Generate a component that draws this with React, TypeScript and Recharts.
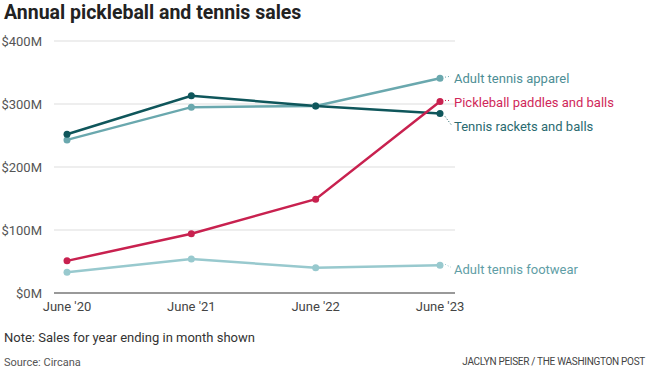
import React from "react";
import { LineChart, Line, XAxis, YAxis, CartesianGrid } from "recharts";

const categories = ["June '20", "June '21", "June '22", "June '23"];
const racketsAndBalls = [252, 313, 297, 285];
const apparel = [243, 295, 297, 341];
const pickleball = [51, 94, 149, 304];
const footwear = [33, 54, 40, 44];
const yTicks = [0, 100, 200, 300, 400];

const data = categories.map((c, i) => ({
  cat: c,
  rackets: racketsAndBalls[i],
  apparel: apparel[i],
  pickleball: pickleball[i],
  footwear: footwear[i],
}));

const FONT = "Roboto, 'Noto Sans', sans-serif";

const series = [
  { key: "footwear", name: "Adult tennis footwear", color: "#98c9ce", labelColor: "#5f9ea6", dy: 4 },
  { key: "apparel", name: "Adult tennis apparel", color: "#6aa8ae", labelColor: "#4d8e95", dy: 0 },
  { key: "rackets", name: "Tennis rackets and balls", color: "#0f565b", labelColor: "#2a6a70", dy: 13 },
  { key: "pickleball", name: "Pickleball paddles and balls", color: "#c8214f", labelColor: "#d0285a", dy: 1 },
];

const makeLabel = (s: any) => (props: any) => {
  const { x, y, index } = props;
  if (index !== categories.length - 1) return null;
  const lx = x + 14;
  const ly = y + s.dy;
  return (
    <g>
      <line x1={x + 5} y1={y + (s.dy > 5 ? 3 : -1)} x2={lx - 3} y2={ly - 2} stroke={s.color} strokeWidth={1} strokeDasharray="1 2" />
      <text x={lx} y={ly} dy="0.35em" fill={s.labelColor} fontSize={13} fontFamily={FONT}>
        {s.name}
      </text>
    </g>
  );
};

export default function App() {
  return (
    <div style={{ position: "fixed", left: 0, top: 0, width: 649, height: 376, background: "#fff", fontFamily: FONT }}>
      <div style={{ position: "absolute", left: 4, top: 1, fontSize: 19.5, fontWeight: 700, color: "#222", whiteSpace: "nowrap" }}>
        Annual pickleball and tennis sales
      </div>
      <LineChart width={649} height={376} data={data} margin={{ top: 41, right: 194, bottom: 53, left: 0 }}>
        <CartesianGrid horizontal vertical={false} stroke="#dddddd" strokeWidth={1} />
        <XAxis
          dataKey="cat"
          height={30}
          padding={{ left: 13, right: 15 }}
          tickLine={false}
          axisLine={{ stroke: "#999", strokeWidth: 2 }}
          tick={{ fontSize: 13, fill: "#444", fontFamily: FONT }}
          tickMargin={3}
          interval={0}
        />
        <YAxis
          width={54}
          domain={[0, 400]}
          ticks={yTicks}
          tickLine={false}
          axisLine={false}
          tickFormatter={(v: number) => `$${v}M`}
          tick={{ fontSize: 13, fill: "#555", fontFamily: FONT }}
          tickMargin={6}
        />
        {series.map((s) => (
          <Line
            key={s.key}
            dataKey={s.key}
            stroke={s.color}
            strokeWidth={2.5}
            dot={{ r: 3.5, fill: s.color, stroke: s.color, strokeWidth: 0 }}
            isAnimationActive={false}
            label={makeLabel(s)}
          />
        ))}
      </LineChart>
      <div style={{ position: "absolute", left: 4, top: 330, fontSize: 13, color: "#333" }}>
        Note: Sales for year ending in month shown
      </div>
      <div style={{ position: "absolute", left: 4, top: 356, fontSize: 11, color: "#555" }}>Source: Circana</div>
      <div style={{ position: "absolute", right: 4, top: 356, fontSize: 10, color: "#444", letterSpacing: -0.3 }}>
        JACLYN PEISER / THE WASHINGTON POST
      </div>
    </div>
  );
}
